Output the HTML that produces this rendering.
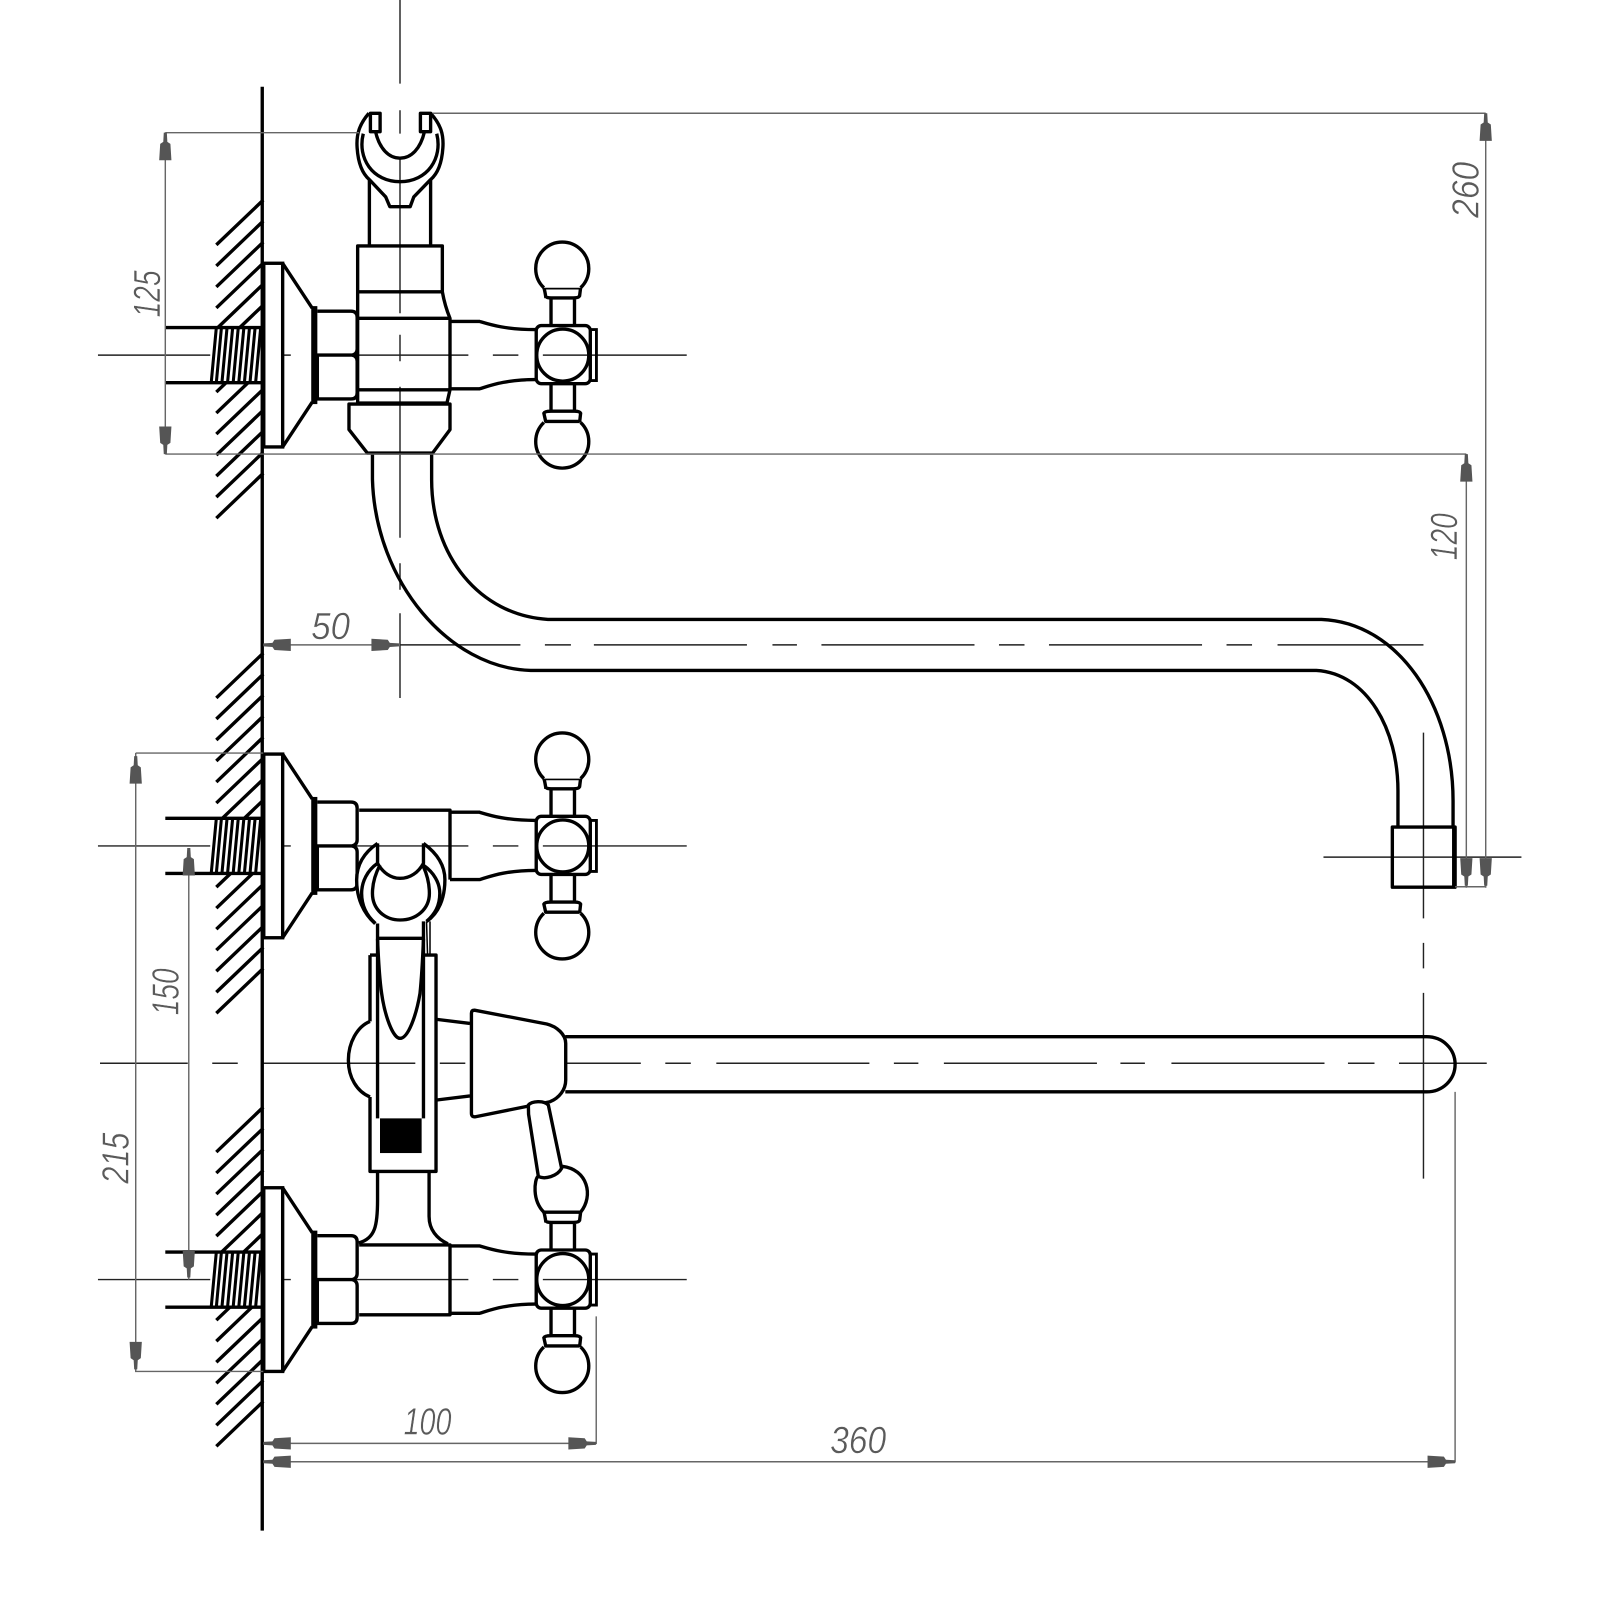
<!DOCTYPE html>
<html><head><meta charset="utf-8"><title>Faucet drawing</title>
<style>html,body{margin:0;padding:0;background:#fff}svg{display:block}
text{font-family:"Liberation Sans",sans-serif;font-style:italic;font-size:37px;fill:#5a5a5a;stroke:#fff;stroke-width:.5px}</style></head>
<body>
<svg xmlns="http://www.w3.org/2000/svg" width="1600" height="1600" viewBox="0 0 1568 1568">
<defs>
<polygon id="a" points="0,0 1.5,0 2,9 5,11 6,27 -6,27 -5,11 -2,9 -1.5,0" fill="#555"/>
<g id="valve" fill="none" stroke="#000" stroke-width="3.300">
  <g stroke="#222" stroke-width="1.400"><path d="M96 0H285M310 0H459M483 0H508M532 0H673"/></g>
  <rect x="206" y="-27" width="52" height="54" fill="#fff" stroke="none"/>
  <path d="M162-27H258M162 27H258" stroke-width="3.300"/>
  <path d="M212-27l-5 54M217-27l-5 54M222.500-27l-5 54M228-27l-5 54M233.500-27l-5 54M239-27l-5 54M244.500-27l-5 54M250-27l-5 54M255.500-27l-5 54" stroke-width="3"/>
  <rect x="258.500" y="-90" width="18.500" height="180" fill="#fff"/>
  <path d="M277-90L306-46M277 90L306 46"/>
  <rect x="305" y="-48" width="6" height="96" fill="#000" stroke="none"/>
  <path d="M311-43H344Q350-43 350-37V-6Q350-1 345 0H311M311 0H345Q350 1 350 6V37Q350 43 344 43H311Z"/>
  <path d="M441-33H470C480-30 495-25 525-25M441 33H470C480 30 495 24 525 24"/>
  <rect x="525.500" y="-29" width="53" height="57" rx="5"/>
  <path d="M578.500-25H584.500V25H578.500" stroke-width="2.800"/>
  <circle cx="551.500" cy="0" r="25.500"/>
  <path d="M540 29V55M563 29V55M535 66L533 57Q534 55 540 55H563Q568 55 569 57L568 66M534 66H568"/>
  <path d="M533 66A26 26 0 1 0 569 66" fill="#fff"/>
  <path d="M534 65H568" />
</g>
<g id="balltop" fill="none" stroke="#000" stroke-width="3.300">
  <path d="M540-30V-56M563-30V-56M535-56Q534-63 533-66H569L568-58Q567-56 562-56H540Q535-56 535-58"/>
  <path d="M533-66A26 26 0 1 1 569-66" fill="#fff"/>
</g>
</defs>

<rect width="1568" height="1568" fill="#fff"/>

<g stroke="#000" stroke-width="3.300">
<path d="M258 196L212 240M258 216.600L212 260.600M258 237.200L212 281.200M258 257.800L212 301.800M258 278.400L212 322.400M258 299L212 343M258 319.600L212 363.600M258 340.200L212 384.200M258 360.800L212 404.800M258 381.400L212 425.400M258 402L212 446M258 422.600L212 466.600M258 443.200L212 487.200M258 463.800L212 507.800"/>
<path d="M258 640L212 684M258 660.600L212 704.600M258 681.200L212 725.200M258 701.800L212 745.800M258 722.400L212 766.400M258 743L212 787M258 763.600L212 807.600M258 784.200L212 828.200M258 804.800L212 848.800M258 825.400L212 869.400M258 846L212 890M258 866.600L212 910.600M258 887.200L212 931.200M258 907.800L212 951.800M258 928.400L212 972.400M258 949L212 993"/>
<path d="M258 1085L212 1129M258 1105.600L212 1149.600M258 1126.200L212 1170.200M258 1146.800L212 1190.800M258 1167.400L212 1211.400M258 1188L212 1232M258 1208.600L212 1252.600M258 1229.200L212 1273.200M258 1249.800L212 1293.800M258 1270.400L212 1314.400M258 1291L212 1335M258 1311.600L212 1355.600M258 1332.200L212 1376.200M258 1352.800L212 1396.800M258 1373.400L212 1417.400"/>
</g>

<g stroke="#222" stroke-width="1.400" fill="none">
<path d="M392 0V82M392 108V131M392 154V307M392 328V354M392 379V527M392 552V578M392 601V684"/>
<path d="M392 632H510M534 632H559.500M582 632H732M757 632H781M805 632H955M979 632H1004M1028 632H1178M1202 632H1227M1252 632H1395"/>
<path d="M1395 718V900M1395 924V949M1395 973V1155"/>
<path d="M1297 840H1491"/>
<path d="M98 1042H184M208 1042H233M258 1042H407M431 1042H456M481 1042H628M652 1042H677M702 1042H852M876 1042H900M925 1042H1075M1098 1042H1122M1148 1042H1298M1321 1042H1347M1371 1042H1457"/>
</g>

<use href="#valve" x="0" y="348"/><use href="#balltop" x="0" y="348"/>
<use href="#valve" x="0" y="829"/><use href="#balltop" x="0" y="829"/>
<use href="#valve" x="0" y="1254"/>

<g fill="none" stroke="#000" stroke-width="3.300" stroke-linejoin="round">
<path d="M257 85V1500"/>

<path d="M362 241V176M422 241V176"/>
<rect x="350.500" y="241" width="83" height="45"/>
<path d="M350.500 286V395M433.500 286Q436 300 441 312V382L438 395M350.500 312H441M350.500 382H441M350.500 395H438"/>
<path d="M342 396H441V421L424 444H360L342 421Z"/>

<path d="M361.500 111C352 122 349 132 350 145C351 160 355 170 362 176L378 193L382 202.500H402L405.500 193L422 176C429 170 433 160 434 145C435 132 432 122 422 111"/>
<path d="M356 131C350 155 365 178 392 178C419 178 434 155 428 131"/>
<path d="M363 111H372.500V129H363ZM412 111H422V129H412Z" fill="#fff"/>
<path d="M368 129C372 146 381 155 392 155C403 155 412 146 416 129"/>

<path d="M365 445V470C368 570 440 655 520 657H1290C1340 660 1370 715 1370 775V810"/>
<path d="M423 445V470C423 545 470 603 537 607H1295C1370 610 1424 690 1424 785V810"/>
<rect x="1364.500" y="810.500" width="61.500" height="59"/>
<path d="M1425 810V870" stroke-width="4"/>

<path d="M352 794H441V862"/>

<path d="M352 1220H441V1288.500H352M441 1220V1288.500"/>
<path d="M370 1148V1176C370 1200 368 1214 351.500 1218M420.500 1148V1192C420.500 1205 428 1214 439 1219"/>

<path d="M362.600 1001C350 1006 341.400 1022 341.400 1039C341.400 1056 350 1070 362.600 1075" />
<path d="M362.600 936V1001M362.600 1075V1148H427.300V936H415M362.600 936H370"/>
<rect x="372.400" y="1096" width="40.800" height="34" fill="#000" stroke="none"/>

<path d="M370 826.500C356 836 349.500 848 349.500 862.400C349.500 880 356 895 367.500 905M415 826.500C428 836 436 848 436 862C436 880 430 895 418 903" fill="#fff"/>
<path d="M370 846C360 853 354.400 864 354.400 875.500C354.400 888 360 898 368 905M415 848C425 855 431 865 431 875.500C431 888 426 896 418 903"/>
<path d="M372.400 847.700C368 856 365 865 365 875.500C365 891 377 901.600 392 901.600C408 901.600 420.800 891 420.800 875.500C420.800 865 418 856 415 849.300"/>
<path d="M370 826.500V846C375 855 383 860.800 392 860.800C402 860.800 410 855 415 846V826.500"/>
<path d="M370 905V1096M415 903V1096M370 919.600H415"/>
<path d="M370 920C371 945 372 960 374 973.500C377 995 385 1017.600 392 1017.600C400 1017.600 408 995 411.600 973.500C413 960 414 945 415 920"/>
<path d="M418 903L419 936M421.400 903V936" stroke-width="1.500"/>

<path d="M428 999L460.600 1003M428 1078L460.600 1074"/>
<path d="M462 993Q462 990 465 990L535.800 1003.500C546 1006 554.400 1014 554.400 1022.500V1058.400C554.400 1068 548 1076 539 1079.700L466 1094.400Q462 1095 462 1091Z" fill="#fff"/>
<path d="M554 1016H1398C1414 1016 1426 1028 1426 1043C1426 1058 1414 1070 1398 1070H554"/>

<path d="M540 1224V1198M563 1224V1198M535 1198Q534 1191 533 1188H569L568 1196Q567 1198 562 1198H540Q535 1198 535 1196"/>
<path d="M533 1188C521 1176 524 1156 527 1153M569 1188C582 1172 576 1146 551 1143" fill="none"/>
<path d="M518 1092L527.600 1153C534 1156 546 1153 550.400 1145L537.400 1083C533 1078 521 1079 517.800 1083Z" fill="#fff"/>
</g>

<g stroke="#666" stroke-width="1.400" fill="none">
<path d="M162 130H352M162 130V445M162 445H1437M1437 445V870M1456 111V870M424 111H1456M1426 869H1456"/>
<path d="M258 632H392"/>
<path d="M133 738H258M133 738V1344H258"/>
<path d="M185 831V1254"/>
<path d="M258 1414.500H584.300V1290M258 1432.500H1426V1070"/>
</g>
<use href="#a" transform="translate(162 130)"/>
<use href="#a" transform="translate(162 445) rotate(180)"/>
<use href="#a" transform="translate(1456 111)"/>
<use href="#a" transform="translate(1456 868) rotate(180)"/>
<use href="#a" transform="translate(1437 445)"/>
<use href="#a" transform="translate(1437 868) rotate(180)"/>
<use href="#a" transform="translate(258 632) rotate(-90)"/>
<use href="#a" transform="translate(391 632) rotate(90)"/>
<use href="#a" transform="translate(133 741)"/>
<use href="#a" transform="translate(133 1342) rotate(180)"/>
<use href="#a" transform="translate(185 831)"/>
<use href="#a" transform="translate(185 1252) rotate(180)"/>
<use href="#a" transform="translate(258 1414.500) rotate(-90)"/>
<use href="#a" transform="translate(584 1414.500) rotate(90)"/>
<use href="#a" transform="translate(258 1432.500) rotate(-90)"/>
<use href="#a" transform="translate(1426 1432.500) rotate(90)"/>

<g text-anchor="middle">
<text x="157" y="288" transform="rotate(-90 157 288)" textLength="46" lengthAdjust="spacingAndGlyphs">125</text>
<text x="1449" y="186" transform="rotate(-90 1449 186)" textLength="55" lengthAdjust="spacingAndGlyphs">260</text>
<text x="1428" y="526" transform="rotate(-90 1428 526)" textLength="46" lengthAdjust="spacingAndGlyphs">120</text>
<text x="175" y="972" transform="rotate(-90 175 972)" textLength="46" lengthAdjust="spacingAndGlyphs">150</text>
<text x="126" y="1135" transform="rotate(-90 126 1135)" textLength="50" lengthAdjust="spacingAndGlyphs">215</text>
<text x="324" y="626" textLength="38" lengthAdjust="spacingAndGlyphs">50</text>
<text x="419" y="1406" textLength="47" lengthAdjust="spacingAndGlyphs">100</text>
<text x="841" y="1424" textLength="55" lengthAdjust="spacingAndGlyphs">360</text>
</g>
</svg>
</body></html>
